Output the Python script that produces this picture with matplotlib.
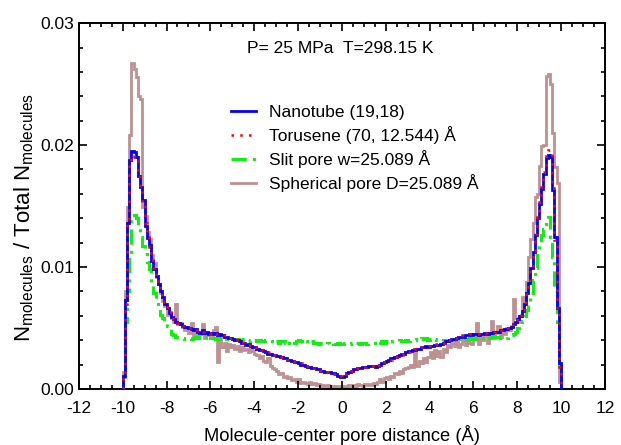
import numpy as np
import matplotlib
matplotlib.use("Agg")
from matplotlib import pyplot as plt

plt.rcParams['font.family'] = ['Liberation Sans', 'DejaVu Sans']
plt.rcParams['mathtext.fontset'] = 'custom'
plt.rcParams['mathtext.rm'] = 'Liberation Sans'
plt.rcParams['axes.unicode_minus'] = False

# histogram bins: 0.1 A wide from -10 to 10 A; values in units of 1e-3
bin_edges = np.linspace(-10, 10, 201)

nanotube = [
    1.1, 7.3, 13.6, 18.8, 19.5, 19.4, 19.0, 17.5, 16.6, 15.5,
    13.4, 12.4, 11.8, 10.5, 9.8, 9.3, 8.6, 8.0, 7.5, 7.0,
    6.6, 6.2, 5.9, 5.7, 5.5, 5.4, 5.3, 5.2, 5.1, 5.1,
    5.0, 4.9, 4.8, 4.9, 4.7, 4.6, 4.8, 4.6, 4.7, 4.5,
    4.6, 4.5, 4.6, 4.4, 4.5, 4.4, 4.3, 4.3, 4.2, 4.2,
    4.1, 4.0, 4.0, 3.9, 3.8, 3.8, 3.6, 3.7, 3.5, 3.4,
    3.4, 3.3, 3.2, 3.2, 3.1, 3.0, 2.9, 2.9, 2.8, 2.8,
    2.7, 2.7, 2.6, 2.5, 2.5, 2.4, 2.4, 2.3, 2.2, 2.2,
    2.1, 2.0, 2.0, 1.9, 1.8, 1.8, 1.7, 1.7, 1.6, 1.6,
    1.5, 1.5, 1.4, 1.4, 1.4, 1.3, 1.3, 1.2, 1.1, 1.0,
    1.0, 1.1, 1.3, 1.4, 1.5, 1.6, 1.6, 1.7, 1.7, 1.8,
    1.8, 1.8, 1.9, 1.9, 1.9, 1.8, 1.9, 2.0, 2.1, 2.2,
    2.3, 2.4, 2.5, 2.5, 2.6, 2.7, 2.8, 2.9, 2.9, 3.0,
    3.1, 3.1, 3.2, 3.2, 3.3, 3.3, 3.4, 3.4, 3.5, 3.4,
    3.5, 3.5, 3.6, 3.6, 3.6, 3.7, 3.8, 3.9, 3.9, 4.0,
    4.1, 4.1, 4.2, 4.3, 4.3, 4.3, 4.4, 4.4, 4.5, 4.4,
    4.5, 4.5, 4.4, 4.5, 4.5, 4.6, 4.5, 4.6, 4.6, 4.7,
    4.7, 4.7, 4.8, 4.8, 4.9, 4.9, 5.0, 5.1, 5.3, 5.5,
    5.7, 6.0, 6.4, 7.0, 7.9, 8.7, 9.9, 11.2, 12.6, 14.0,
    15.2, 16.4, 17.6, 18.9, 19.2, 19.0, 16.3, 12.5, 6.6, 2.1,
]

torusene = [
    0.8, 7.0, 13.9, 18.6, 19.2, 19.0, 18.8, 17.8, 16.4, 15.3,
    13.6, 12.5, 11.6, 10.6, 9.9, 9.2, 8.7, 8.1, 7.4, 7.1,
    6.7, 6.3, 5.9, 5.7, 5.6, 5.4, 5.3, 5.2, 5.2, 5.0,
    5.0, 4.9, 4.9, 4.8, 4.7, 4.7, 4.7, 4.6, 4.6, 4.6,
    4.5, 4.6, 4.5, 4.5, 4.4, 4.4, 4.4, 4.3, 4.2, 4.2,
    4.1, 4.1, 4.0, 3.9, 3.9, 3.8, 3.7, 3.6, 3.6, 3.5,
    3.4, 3.3, 3.3, 3.2, 3.1, 3.1, 3.0, 2.9, 2.8, 2.8,
    2.7, 2.6, 2.6, 2.5, 2.5, 2.4, 2.3, 2.3, 2.2, 2.2,
    2.1, 2.1, 2.0, 1.9, 1.9, 1.8, 1.7, 1.7, 1.6, 1.6,
    1.5, 1.5, 1.5, 1.4, 1.3, 1.3, 1.2, 1.2, 1.1, 1.1,
    1.0, 1.2, 1.3, 1.4, 1.5, 1.5, 1.6, 1.7, 1.8, 1.8,
    1.8, 1.9, 1.9, 1.9, 2.0, 1.9, 2.0, 2.0, 2.1, 2.2,
    2.3, 2.4, 2.4, 2.5, 2.6, 2.7, 2.7, 2.8, 2.9, 3.0,
    3.0, 3.1, 3.2, 3.3, 3.3, 3.4, 3.4, 3.5, 3.5, 3.5,
    3.6, 3.6, 3.6, 3.7, 3.7, 3.8, 3.8, 3.9, 4.0, 4.0,
    4.1, 4.2, 4.2, 4.2, 4.3, 4.4, 4.4, 4.4, 4.5, 4.5,
    4.5, 4.5, 4.5, 4.6, 4.6, 4.6, 4.6, 4.7, 4.7, 4.7,
    4.8, 4.8, 4.8, 4.9, 4.9, 5.0, 5.1, 5.2, 5.3, 5.5,
    5.8, 6.1, 6.5, 7.1, 7.8, 8.8, 10.0, 11.3, 12.7, 14.1,
    15.3, 16.6, 17.8, 19.1, 19.6, 19.4, 16.5, 12.2, 6.3, 1.8,
]

slit = [
    1.0, 5.5, 8.0, 10.8, 13.8, 14.3, 14.0, 13.3, 12.5, 11.7,
    11.1, 10.4, 9.8, 8.8, 7.9, 7.1, 6.6, 6.1, 5.8, 5.5,
    5.2, 4.9, 4.5, 4.4, 4.3, 4.3, 4.2, 4.2, 4.1, 4.2,
    4.2, 4.1, 4.2, 4.3, 4.2, 4.3, 4.2, 4.3, 4.4, 4.3,
    4.2, 4.2, 4.1, 4.2, 4.1, 4.1, 4.2, 4.1, 4.1, 4.0,
    4.1, 4.0, 4.1, 4.0, 4.0, 4.1, 4.0, 3.9, 4.0, 3.9,
    4.0, 3.9, 4.0, 3.9, 3.9, 4.0, 3.9, 3.9, 3.8, 3.9,
    3.9, 3.8, 3.9, 3.9, 3.8, 3.9, 3.8, 3.9, 3.8, 3.9,
    4.0, 3.9, 3.8, 3.9, 3.8, 3.8, 3.9, 3.8, 3.8, 3.7,
    3.8, 3.8, 3.7, 3.8, 3.7, 3.8, 3.7, 3.7, 3.8, 3.7,
    3.7, 3.8, 3.7, 3.7, 3.8, 3.7, 3.8, 3.8, 3.7, 3.8,
    3.8, 3.7, 3.8, 3.8, 3.8, 3.9, 3.8, 3.8, 3.9, 3.8,
    3.9, 3.9, 3.8, 3.9, 3.9, 3.9, 4.0, 3.9, 3.9, 4.0,
    3.9, 4.0, 4.0, 4.0, 4.1, 4.0, 4.2, 4.1, 4.2, 4.0,
    4.1, 4.0, 4.1, 4.0, 4.0, 3.9, 4.0, 4.0, 3.9, 4.0,
    4.0, 4.1, 4.0, 4.1, 4.1, 4.0, 4.1, 4.1, 4.2, 4.1,
    4.1, 4.2, 4.1, 4.2, 4.2, 4.2, 4.3, 4.2, 4.3, 4.3,
    4.3, 4.3, 4.2, 4.3, 4.2, 4.2, 4.3, 4.4, 4.5, 4.7,
    5.0, 5.3, 5.6, 6.0, 6.5, 7.1, 7.9, 8.9, 9.9, 11.0,
    11.9, 12.6, 13.1, 13.5, 14.1, 12.5, 10.8, 8.0, 5.5, 2.0,
]

spherical = [
    1.4, 8.0, 14.9, 20.8, 26.7, 26.2, 25.6, 24.0, 23.8, 14.9,
    14.2, 12.9, 12.3, 11.0, 10.3, 9.2, 8.6, 7.9, 7.2, 6.8,
    6.1, 6.2, 5.8, 5.5, 7.0, 5.3, 5.4, 5.1, 4.8, 5.0,
    4.6, 5.4, 4.4, 4.8, 4.3, 4.5, 5.3, 4.2, 4.6, 4.4,
    4.2, 4.8, 5.1, 2.2, 4.2, 3.4, 3.8, 3.1, 3.7, 3.4,
    3.6, 3.3, 3.5, 3.1, 3.4, 3.2, 3.3, 3.0, 3.3, 3.1,
    2.9, 2.8, 2.5, 2.7, 2.3, 2.2, 2.5, 1.9, 1.7, 1.6,
    1.5, 1.2, 1.3, 1.0, 1.1, 0.9, 1.0, 0.7, 0.8, 0.6,
    0.8, 0.5, 0.6, 0.5, 0.4, 0.6, 0.4, 0.5, 0.3, 0.4,
    0.2, 0.3, 0.2, 0.3, 0.1, 0.2, 0.1, 0.2, 0.1, 0.2,
    0.1, 0.2, 0.1, 0.3, 0.2, 0.3, 0.2, 0.4, 0.3, 0.2,
    0.4, 0.3, 0.4, 0.3, 0.5, 0.4, 0.6, 0.8, 0.6, 0.9,
    1.0, 0.8, 1.1, 1.0, 1.3, 1.2, 1.5, 1.3, 1.6, 1.7,
    1.8, 2.0, 1.8, 3.3, 1.9, 2.3, 2.1, 2.5, 2.2, 2.6,
    3.0, 2.5, 3.2, 2.7, 3.1, 2.6, 3.3, 3.0, 3.6, 3.4,
    3.8, 3.5, 3.9, 3.4, 3.7, 4.0, 3.6, 4.1, 3.8, 3.7,
    4.2, 5.4, 3.7, 4.3, 4.0, 4.4, 3.8, 4.5, 5.6, 4.2,
    4.6, 5.2, 4.3, 4.9, 4.5, 5.0, 4.8, 5.2, 7.4, 5.8,
    5.5, 6.0, 7.5, 7.2, 8.8, 10.8, 12.3, 13.6, 15.7, 16.0,
    18.3, 19.9, 20.0, 25.7, 25.8, 25.0, 21.0, 18.2, 16.9, 0.6,
]

scale = 1e-3

fig = plt.figure(figsize=(6.21, 4.45), dpi=100)
ax = fig.add_axes([0.127, 0.126, 0.847, 0.822])

ax.stairs(np.array(spherical) * scale, bin_edges, color='#bf9090', lw=2.0,
          label='Spherical pore D=25.089 Å', zorder=1)
ax.stairs(np.array(slit) * scale, bin_edges, color='#11ee11', lw=2.2,
          linestyle=(0, (5, 2, 1, 2)), label='Slit pore w=25.089 Å', zorder=2)
ax.stairs(np.array(nanotube) * scale, bin_edges, color='#0000ff', lw=2.0,
          label='Nanotube (19,18)', zorder=3)
ax.stairs(np.array(torusene) * scale, bin_edges, color='#ff0000', lw=1.8,
          linestyle=(0, (1, 2.5)), label='Torusene (70, 12.544) Å', zorder=4)

ax.set_xlim(-12, 12)
ax.set_ylim(0, 0.03)
ax.set_xticks(np.arange(-12, 13, 2))
ax.set_xticks(np.arange(-12, 12.1, 0.5), minor=True)
ax.set_yticks([0.0, 0.01, 0.02, 0.03])
ax.set_yticks(np.arange(0, 0.0301, 0.002), minor=True)
ax.yaxis.set_major_formatter(plt.FormatStrFormatter('%.2f'))
ax.tick_params(which='both', direction='in', top=True, right=True,
               labelsize=12.5, width=1.2)
ax.tick_params(which='major', length=6)
ax.tick_params(which='minor', length=3)
ax.tick_params(axis='x', which='major', pad=8.5)
for s in ax.spines.values():
    s.set_linewidth(1.4)

ax.set_xlabel('Molecule-center pore distance (Å)', fontsize=13.2, labelpad=7)
ax.set_ylabel(r'N$_\mathregular{molecules}$ / Total N$_\mathregular{molecules}$',
              fontsize=16)
ax.yaxis.set_label_coords(-0.082, 0.47)
ax.text(0.496, 0.932, 'P= 25 MPa  T=298.15 K', transform=ax.transAxes,
        ha='center', va='center', fontsize=12.5)

handles, labels = ax.get_legend_handles_labels()
order = [2, 3, 1, 0]
ax.legend([handles[i] for i in order], [labels[i] for i in order],
          loc='upper left', bbox_to_anchor=(0.26, 0.82), frameon=False,
          fontsize=12.5, handlelength=1.4, handletextpad=0.8, labelspacing=0.35)

fig.savefig('out.png', dpi=100)
